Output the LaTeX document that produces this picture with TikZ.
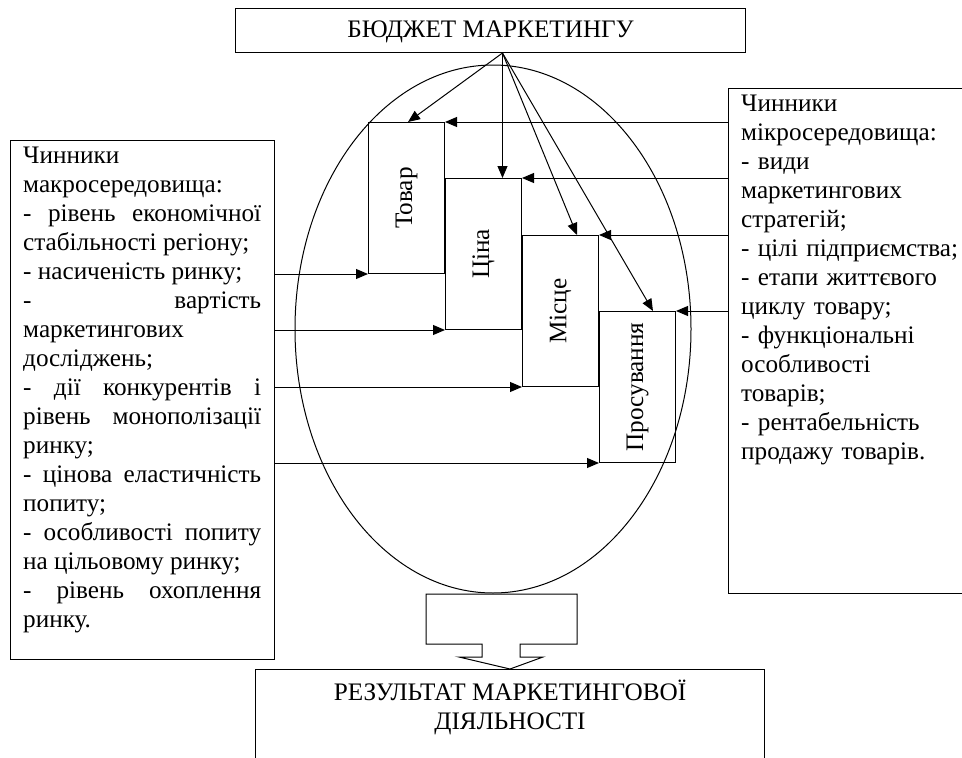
\documentclass[tikz,border=0pt]{standalone}
\usepackage{fontspec}
\setmainfont{Liberation Serif}
\usetikzlibrary{arrows.meta,positioning,shapes.geometric}

\tolerance=9999
\hyphenpenalty=10000
\newcommand{\bigtext}{\fontsize{25.2}{29}\selectfont}

\tikzset{
  plainbox/.style={draw, line width=1pt, inner sep=0pt},
  stepbox/.style={plainbox, anchor=north west, minimum width=76pt, minimum height=151pt},
  steplabel/.style={rotate=90, inner sep=0pt},
  factortext/.style={anchor=north west, inner xsep=13pt, inner ysep=7pt, text width=238pt},
  feed/.style={-{Triangle[length=12pt,width=10pt]}, line width=1pt},
}

\begin{document}
\begin{tikzpicture}[x=1pt,y=-1pt,font=\bigtext]
  \useasboundingbox (0,0) rectangle (962,758);
  \clip (0,0) rectangle (962,758);

  % budget on top
  \node[plainbox, anchor=north west, minimum width=510pt, minimum height=44pt,
        text height=17pt, text depth=3pt] (budget) at (235,8) {БЮДЖЕТ МАРКЕТИНГУ};
  \coordinate (apex) at ([xshift=12pt]budget.south);

  % marketing mix
  \node[draw, ellipse, line width=1pt, inner sep=0pt,
        minimum width=396pt, minimum height=528pt] (mix) at (493,329) {};
  \node[stepbox] (tovar) at (368,122) {};
  \node[stepbox] (tsina) at ([yshift=-56pt]tovar.north east) {};
  \node[stepbox] (mistse) at ([yshift=-57pt]tsina.north east) {};
  \node[stepbox] (prosuv) at ([yshift=-76pt]mistse.north east) {};
  \node[steplabel] (tovarlbl) at (tovar.center) {Товар};
  \node[steplabel] (tsinalbl) at (tsina.center) {Ціна};
  \node[steplabel] (mistselbl) at (mistse.center) {Місце};
  \node[steplabel] (prosuvlbl) at (prosuv.center) {Просування};

  % macro factors
  \node[plainbox, anchor=north west, minimum width=264pt, minimum height=519pt] (macro) at (10,140) {};
  \node[factortext, align=justify] (macrotext) at (macro.north west) {%
    Чинники\\
    макросередовища:\\
    - рівень економічної\linebreak
    стабільності регіону;\\
    - насиченість ринку;\\
    - вартість\linebreak
    маркетингових\\
    досліджень;\\
    - дії конкурентів і\linebreak
    рівень монополізації\linebreak
    ринку;\\
    - цінова еластичність\linebreak
    попиту;\\
    - особливості попиту\linebreak
    на цільовому ринку;\\
    - рівень охоплення\linebreak
    ринку.};

  % micro factors
  \node[plainbox, anchor=north west, minimum width=264pt, minimum height=505pt] (micro) at (728,88) {};
  \node[factortext, align=left] (microtext) at (micro.north west) {%
    Чинники\\
    мікросередовища:\\
    - види\\
    маркетингових\\
    стратегій;\\
    - цілі підприємства;\\
    - етапи життєвого\\
    циклу товару;\\
    - функціональні\\
    особливості\\
    товарів;\\
    - рентабельність\\
    продажу товарів.};

  % result
  \node[plainbox, anchor=north, minimum width=509pt, minimum height=140pt] (result) at (510,669) {};
  \node[anchor=north, align=center, inner sep=0pt] (resulttext) at ([yshift=-11pt]result.north)
    {РЕЗУЛЬТАТ МАРКЕТИНГОВОЇ\\ДІЯЛЬНОСТІ};

  % budget fan
  \draw[feed] (apex) -- ([xshift=40pt]tovar.north west);
  \draw[feed] (apex) -- (apex |- tsina.north);
  \draw[feed] (apex) -- ([xshift=55pt]mistse.north west);
  \draw[feed] (apex) -- ([xshift=54pt]prosuv.north west);

  % macro arrows
  \draw[feed] (macro.east |- tovar.south west) -- (tovar.south west);
  \draw[feed] (macro.east |- tsina.south west) -- (tsina.south west);
  \draw[feed] (macro.east |- mistse.south west) -- (mistse.south west);
  \draw[feed] (macro.east |- prosuv.south west) -- (prosuv.south west);

  % micro arrows
  \draw[feed] (micro.west |- tovar.north east) -- (tovar.north east);
  \draw[feed] (micro.west |- tsina.north east) -- (tsina.north east);
  \draw[feed] (micro.west |- mistse.north east) -- (mistse.north east);
  \draw[feed] (micro.west |- prosuv.north east) -- (prosuv.north east);

  % block arrow down to the result
  \draw[line width=1pt] (426,594) -- (577,594) -- (577,644) -- (520,644) -- (520,657)
    -- (543,657) -- (result.north) -- (459,657) -- (482,657) -- (482,644) -- (426,644) -- cycle;
\end{tikzpicture}
\end{document}
